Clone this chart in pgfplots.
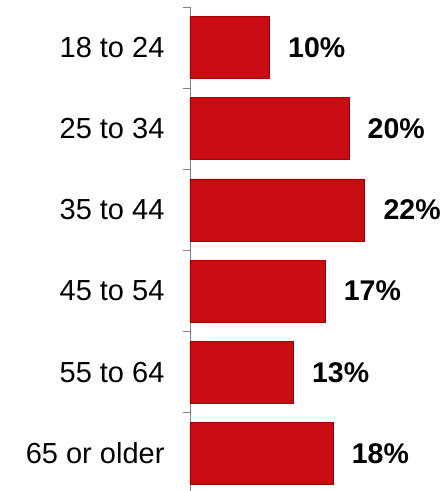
\documentclass[border=0pt]{standalone}
\usepackage{pgfplots}
\pgfplotsset{compat=1.18}
\usepackage{fontspec}
\setmainfont{Liberation Sans}
\definecolor{barred}{RGB}{200,12,18}
\definecolor{baredge}{RGB}{160,0,0}
\definecolor{axisgray}{RGB}{130,130,130}
\begin{document}
\begin{tikzpicture}
  \path[use as bounding box] (0,0) rectangle (446pt,491pt);
  \begin{axis}[
      at={(190pt,-3pt)}, anchor=south west,
      scale only axis,
      width=254.4pt, height=487pt,
      xbar, bar width=62pt,
      xmin=0, xmax=32,
      ymin=-0.5, ymax=5.5,
      y dir=reverse,
      axis x line=none,
      axis y line*=left,
      y axis line style={axisgray, line width=0.8pt},
      ytick={0,...,5},
      yticklabels={18 to 24, 25 to 34, 35 to 44, 45 to 54, 55 to 64, 65 or older},
      major tick length=0pt,
      yticklabel style={font=\fontsize{29}{32}\selectfont, xshift=-22pt},
      extra y ticks={-0.5,0.5,1.5,2.5,3.5,4.5,5.5},
      extra y tick labels={},
      extra y tick style={tick align=outside, major tick length=7pt,
        tick style={axisgray, line width=0.8pt}},
      clip=false,
      point meta=x,
      nodes near coords={\pgfmathprintnumber[assume math mode=true]{\pgfplotspointmeta}\%},
      nodes near coords style={font=\fontsize{28.5}{30}\selectfont\bfseries,
        anchor=west, xshift=15pt, text=black},
    ]
    \addplot[fill=barred, draw=baredge, line width=0.8pt] coordinates {
      (10,0)
      (20,1)
      (22,2)
      (17,3)
      (13,4)
      (18,5)
    };
  \end{axis}
\end{tikzpicture}
\end{document}
